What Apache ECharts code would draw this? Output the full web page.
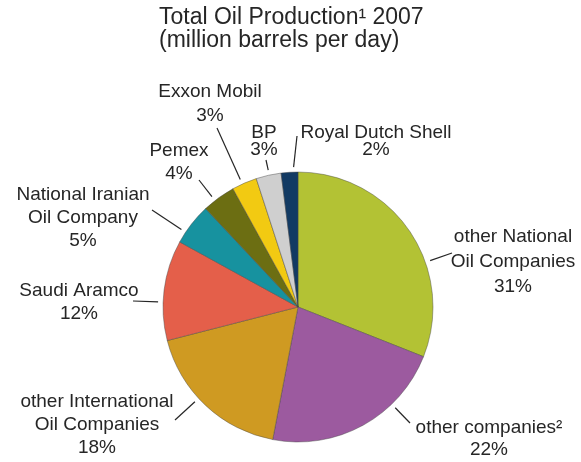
<!DOCTYPE html>
<html>
<head>
<meta charset="utf-8">
<script src="https://cdn.jsdelivr.net/npm/echarts@6/dist/echarts.min.js"></script>
<style>
  html, body { margin: 0; background: #fff; }
  #chart { width: 581px; height: 462px; }
</style>
</head>
<body>
<div id="chart"></div>
<script>
// slices, clockwise from 12 o'clock
const names = [
    "other National\nOil Companies",
    "other companies²",
    "other International\nOil Companies",
    "Saudi Aramco",
    "National Iranian\nOil Company",
    "Pemex",
    "Exxon Mobil",
    "BP",
    "Royal Dutch Shell",
];
const shares = [31, 22, 18, 12, 5, 4, 3, 3, 2];
const colors = ["#b3c234", "#9c5a9f", "#cf9a22", "#e45f4a", "#17929f", "#6c6e12", "#f2ca12", "#cfcfcf", "#123a63"];

// label block centre x, y and line height
const labelPos = [
    [513, 262, 25], [489, 439, 22], [97, 425, 23], [79, 302, 23], [83, 218, 23],
    [179, 162, 23], [210, 104, 24], [264, 141, 17], [376, 141, 17],
];
// where each leader line ends, next to its label
const leaderEnd = [
    [452, 253], [410, 423], [175, 420], [133, 301], [152, 210],
    [199, 180], [217, 128], [266, 160], [297, 136],
];

const CX = 298, CY = 307, R = 135;
const FONT = "'Liberation Sans', Arial, sans-serif";
const INK = "#262626";

const total = shares.reduce((a, b) => a + b, 0);
let acc = 0;
const ranges = shares.map((v) => {
    const a0 = acc / total * 360;
    acc += v;
    return [a0, acc / total * 360];
});

// leader starts just outside the rim, aimed at its end but kept on its own slice
function leaderStart(i) {
    const [ex, ey] = leaderEnd[i];
    let a = Math.atan2(ex - CX, -(ey - CY)) * 180 / Math.PI;
    if (a < 0) a += 360;
    const [a0, a1] = ranges[i];
    const m = (a1 - a0) * 0.25;
    a = Math.min(Math.max(a, a0 + m), a1 - m);
    const rad = a * Math.PI / 180;
    return [CX + (R + 5) * Math.sin(rad), CY - (R + 5) * Math.cos(rad)];
}

const chart = echarts.init(document.getElementById("chart"));

chart.setOption({
    animation: false,
    backgroundColor: "#fff",
    title: {
        text: "Total Oil Production¹ 2007\n(million barrels per day)",
        left: 159,
        top: 6,
        padding: 0,
        textStyle: {
            color: INK,
            fontSize: 23,
            fontWeight: "normal",
            fontFamily: FONT,
            lineHeight: 23,
        },
    },
    series: [{
        type: "pie",
        center: [CX, CY],
        radius: R,
        startAngle: 90,
        clockwise: true,
        avoidLabelOverlap: false,
        itemStyle: { borderColor: "rgba(70,70,70,0.55)", borderWidth: 0.8 },
        label: {
            show: true,
            position: "outside",
            formatter: "{b}\n{c}%",
            color: INK,
            fontSize: 19,
            fontFamily: FONT,
            align: "center",
        },
        labelLine: {
            show: true,
            length: 10,
            length2: 0,
            lineStyle: { color: INK, width: 1.2 },
        },
        labelLayout: (p) => {
            const i = p.dataIndex;
            return {
                x: labelPos[i][0],
                y: labelPos[i][1],
                align: "center",
                verticalAlign: "middle",
                labelLinePoints: [leaderStart(i), leaderEnd[i]],
            };
        },
        emphasis: { disabled: true },
        data: names.map((n, i) => ({
            name: n,
            value: shares[i],
            itemStyle: { color: colors[i] },
            label: { lineHeight: labelPos[i][2] },
        })),
    }],
});
</script>
</body>
</html>
